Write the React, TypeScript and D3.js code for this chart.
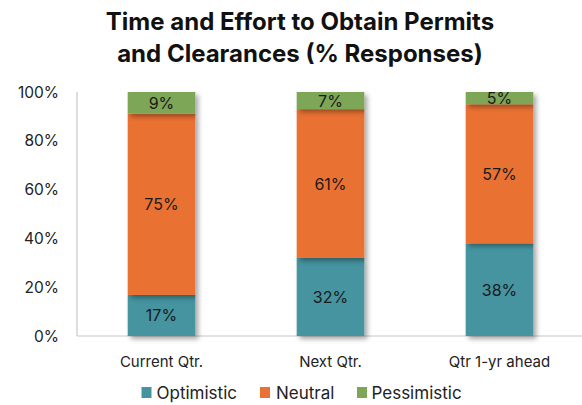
import React from "react";
import * as d3 from "d3";

const categories = ["Current Qtr.", "Next Qtr.", "Qtr 1-yr ahead"];
const seriesNames = ["Optimistic", "Neutral", "Pessimistic"];
const optimistic = [17, 32, 38];
const neutral = [75, 61, 57];
const pessimistic = [9, 7, 5];
const yTicks = [0, 0.2, 0.4, 0.6, 0.8, 1.0];
const colors = ["#4494A0", "#E97132", "#7DA657"];

const W = 582, H = 405;
const margin = { left: 77, right: -2, top: 92, bottom: 69 };
const FONT = "Inter, 'Open Sans', 'Noto Sans', sans-serif";

export default function App() {
  const rows = categories.map((c, i) => ({
    cat: c,
    Optimistic: optimistic[i],
    Neutral: neutral[i],
    Pessimistic: pessimistic[i],
  }));
  const stack = d3.stack<any>().keys(seriesNames).offset(d3.stackOffsetExpand);
  const series = stack(rows);
  const x = d3.scaleBand().domain(categories).range([margin.left, W - margin.right]).paddingInner(0.6).paddingOuter(0.3);
  const y = d3.scaleLinear().domain([0, 1]).range([H - margin.bottom, margin.top]);
  const fmt = d3.format(".0%");

  const legendItems = [
    { name: "Optimistic", sx: 141.5, tx: 156.5 },
    { name: "Neutral", sx: 260, tx: 276 },
    { name: "Pessimistic", sx: 357, tx: 371.5 },
  ];

  return (
    <svg width={W} height={H} style={{ position: "absolute", left: 0, top: 0, background: "#fff" }} fontFamily={FONT}>
      <defs>
        <filter id="shadow" x="-20%" y="-20%" width="150%" height="150%">
          <feDropShadow dx="3" dy="3" stdDeviation="2.5" floodColor="#000" floodOpacity="0.35" />
        </filter>
      </defs>
      <text x={300} y={30} textAnchor="middle" fontSize={24} fontWeight={700} fill="#111">
        Time and Effort to Obtain Permits
      </text>
      <text x={300} y={62} textAnchor="middle" fontSize={24} fontWeight={700} fill="#111">
        and Clearances (% Responses)
      </text>
      {yTicks.map((t) => (
        <text key={t} x={59} y={y(t) + 5.5} textAnchor="end" fontSize={15.5} fill="#222">
          {fmt(t)}
        </text>
      ))}
      <line x1={margin.left} x2={margin.left} y1={margin.top} y2={y(0)} stroke="#c8c8c8" strokeWidth={1.2} />
      <line x1={margin.left} x2={W} y1={y(0)} y2={y(0)} stroke="#c8c8c8" strokeWidth={1.2} />
      {series.map((s, si) => (
        <g key={s.key} filter="url(#shadow)">
          {s.map((d, i) => (
            <rect
              key={i}
              x={x(categories[i])}
              width={x.bandwidth()}
              y={y(d[1])}
              height={y(d[0]) - y(d[1])}
              fill={colors[si]}
            />
          ))}
        </g>
      ))}
      {series.map((s, si) =>
        s.map((d, i) => {
          const vals = [optimistic, neutral, pessimistic][si];
          const cy = (y(d[0]) + y(d[1])) / 2;
          return (
            <text key={s.key + i} x={(x(categories[i]) as number) + x.bandwidth() / 2} y={cy + 6} textAnchor="middle" fontSize={16} fill="#1a1a1a">
              {vals[i] + "%"}
            </text>
          );
        })
      )}
      {categories.map((c) => (
        <text key={c} x={(x(c) as number) + x.bandwidth() / 2} y={367} textAnchor="middle" fontSize={15} fill="#222">
          {c}
        </text>
      ))}
      {legendItems.map((l, i) => (
        <g key={l.name}>
          <rect x={l.sx} y={387} width={10} height={11} fill={colors[i]} />
          <text x={l.tx} y={399} fontSize={17} fill="#222">
            {l.name}
          </text>
        </g>
      ))}
    </svg>
  );
}
